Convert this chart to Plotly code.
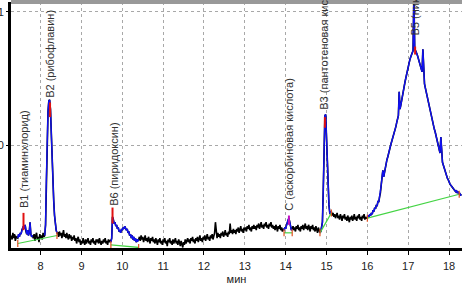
import plotly.graph_objects as go

# ---------------- data ----------------
SAMPLE_STEP = 0.02  # min between detector samples

sig_0728 = [-0.68, -0.71, -0.66, -0.70, -0.67, -0.72, -0.69, -0.70]
sig_0744 = [-0.70, -0.67, -0.69, -0.66, -0.67, -0.64, -0.62, -0.61, -0.63, -0.60,
            -0.65, -0.67, -0.64, -0.68, -0.66, -0.58, -0.67, -0.69, -0.68]
sig_0782 = [-0.70, -0.67, -0.72, -0.68, -0.66, -0.71, -0.69, -0.73, -0.67, -0.70,
            -0.68, -0.71, -0.66, -0.69]
sig_0810 = [-0.68, -0.60, -0.25, 0.05, 0.25, 0.33, 0.34, 0.27, 0.05, -0.15,
            -0.30, -0.42, -0.53, -0.60, -0.64, -0.66]
sig_0842 = [-0.66, -0.69, -0.65, -0.68, -0.66, -0.70, -0.67, -0.64, -0.69, -0.67,
            -0.70, -0.66, -0.69, -0.71, -0.67, -0.70, -0.68, -0.72, -0.69, -0.71,
            -0.68, -0.72, -0.70, -0.74, -0.71, -0.69, -0.73, -0.71, -0.75, -0.72,
            -0.74, -0.70, -0.73, -0.75, -0.71, -0.74, -0.72, -0.70, -0.74, -0.72,
            -0.75, -0.71, -0.73, -0.70, -0.74, -0.72, -0.75, -0.71, -0.73, -0.71,
            -0.74, -0.70, -0.73, -0.75, -0.72, -0.74, -0.71, -0.73, -0.70, -0.74,
            -0.72, -0.75, -0.71, -0.73, -0.72]
sig_0972 = [-0.73, -0.70, -0.54, -0.56, -0.59, -0.58, -0.61, -0.60, -0.63, -0.62,
            -0.65, -0.64, -0.66, -0.63, -0.64, -0.62, -0.63, -0.61, -0.62, -0.64,
            -0.63, -0.66, -0.65, -0.68, -0.67, -0.70, -0.68, -0.71, -0.69, -0.72,
            -0.70, -0.73, -0.71, -0.72, -0.71]
sig_1042 = [-0.69, -0.72, -0.68, -0.71, -0.69, -0.73, -0.70, -0.68, -0.72, -0.70,
            -0.73, -0.69, -0.71, -0.74, -0.70, -0.72, -0.69, -0.73, -0.71, -0.74,
            -0.70, -0.72, -0.75, -0.71, -0.73, -0.70, -0.74, -0.72, -0.75, -0.71,
            -0.73, -0.70, -0.74, -0.72, -0.76, -0.71, -0.73, -0.70, -0.74, -0.72,
            -0.75, -0.71, -0.74, -0.72, -0.70, -0.74, -0.72, -0.75, -0.71, -0.73,
            -0.76, -0.72, -0.74, -0.77, -0.73, -0.75, -0.71, -0.74, -0.72, -0.70,
            -0.73, -0.71, -0.74, -0.70, -0.72, -0.69, -0.73, -0.71, -0.74, -0.70,
            -0.72, -0.69, -0.73, -0.71, -0.68, -0.72, -0.70, -0.73, -0.69, -0.71]
sig_1202 = [-0.68, -0.72, -0.70, -0.67, -0.71, -0.69, -0.72, -0.68, -0.70, -0.67,
            -0.71, -0.69, -0.66, -0.58, -0.68, -0.70, -0.66, -0.69, -0.67, -0.70,
            -0.66, -0.68, -0.65, -0.69, -0.67, -0.64, -0.68, -0.66, -0.69, -0.65,
            -0.67, -0.59, -0.66, -0.64, -0.67, -0.63, -0.66, -0.64, -0.67, -0.63,
            -0.65, -0.62, -0.66, -0.64, -0.61, -0.65, -0.63, -0.66, -0.62, -0.64]
sig_1302 = [-0.62, -0.65, -0.61, -0.63, -0.60, -0.64, -0.62, -0.65, -0.61, -0.63,
            -0.60, -0.63, -0.61, -0.64, -0.60, -0.62, -0.59, -0.63, -0.61, -0.58,
            -0.62, -0.60, -0.63, -0.59, -0.61, -0.58, -0.62, -0.60, -0.63, -0.59,
            -0.61, -0.58, -0.62, -0.60, -0.63, -0.61, -0.64, -0.60, -0.62, -0.65,
            -0.61, -0.63, -0.60, -0.64, -0.62, -0.65, -0.63]
sig_1396 = [-0.64, -0.62, -0.63, -0.60, -0.58, -0.56, -0.55, -0.58, -0.62, -0.64,
            -0.63]
sig_1418 = [-0.61, -0.64, -0.62, -0.65, -0.61, -0.63, -0.60, -0.64, -0.62, -0.65,
            -0.61, -0.63, -0.60, -0.64, -0.62, -0.59, -0.63, -0.61, -0.64, -0.60,
            -0.62, -0.65, -0.61, -0.63, -0.60, -0.64, -0.62, -0.65, -0.61, -0.63,
            -0.66, -0.62, -0.64]
sig_1484 = [-0.66, -0.65, -0.62, -0.58, -0.35, 0.00, 0.22, 0.23, 0.05, -0.10,
            -0.35, -0.45, -0.51, -0.52, -0.50]
sig_1514 = [-0.53, -0.51, -0.54, -0.52, -0.55, -0.53, -0.51, -0.55, -0.53, -0.56,
            -0.52, -0.54, -0.57, -0.53, -0.55, -0.52, -0.56, -0.54, -0.57, -0.53,
            -0.55, -0.58, -0.54, -0.56, -0.53, -0.57, -0.55, -0.52, -0.56, -0.54,
            -0.57, -0.53, -0.55, -0.52, -0.56, -0.54, -0.57, -0.53, -0.55, -0.52,
            -0.56, -0.54, -0.55]
sig_1600 = [-0.55, -0.53, -0.54, -0.52, -0.53, -0.51, -0.52, -0.49, -0.50, -0.47,
            -0.48, -0.45, -0.46, -0.42, -0.43, -0.39, -0.36, -0.30, -0.24, -0.19,
            -0.24, -0.20, -0.17, -0.14, -0.11, -0.09, -0.06, -0.04, -0.01, 0.01,
            0.03, 0.05, 0.08, 0.10, 0.12, 0.14, 0.17, 0.19, 0.22, 0.40,
            0.27, 0.30, 0.34, 0.37, 0.40, 0.44, 0.47, 0.50, 0.53, 0.57,
            0.60, 0.62, 0.64, 0.66, 0.68, 0.69, 0.71, 1.15, 0.72, 0.71,
            0.70, 0.68, 0.66, 0.64, 0.62, 0.60, 0.57, 0.55, 0.72, 0.50,
            0.46, 0.43, 0.40, 0.37, 0.34, 0.31, 0.28, 0.26, 0.23, 0.20,
            0.18, 0.15, 0.12, 0.10, 0.07, 0.05, 0.02, -0.01, -0.03, -0.06,
            0.06, -0.11, -0.13, -0.15, -0.17, -0.20, -0.22, -0.23, -0.25, -0.26,
            -0.28, -0.29, -0.30, -0.31, -0.32, -0.33, -0.33, -0.34, -0.35, -0.34,
            -0.36, -0.35, -0.37, -0.36, -0.38, -0.37]

chunk_start = [7.28, 7.44, 7.82, 8.10, 8.42, 9.72, 10.42, 12.02, 13.02, 13.96,
               14.18, 14.84, 15.14, 16.00]
chunks = [sig_0728, sig_0744, sig_0782, sig_0810, sig_0842, sig_0972, sig_1042,
          sig_1202, sig_1302, sig_1396, sig_1418, sig_1484, sig_1514, sig_1600]

# peaks
peak_labels = ["В1 (тиаминхлорид)", "В2 (рибофлавин)", "В6 (пиридоксин)",
               "С (аскорбиновая кислота)", "В3 (пантотеновая кислота)",
               "В5 (никотиновая кислота)"]
window_start = [7.44, 8.10, 9.72, 13.96, 14.84, 16.00]
window_end = [7.80, 8.40, 10.40, 14.16, 15.12, 18.30]
apex_t = [7.58, 8.23, 9.76, 14.08, 14.96, 17.17]
apex_mark_top = [-0.51, 0.32, -0.47, -0.53, 0.21, 0.74]
apex_mark_bottom = [-0.64, 0.21, -0.59, -0.60, 0.13, 0.68]
apex_mark_color = ["#e01010", "#e01010", "#e01010", "#c010c0", "#e01010", "#e01010"]
label_t = [7.59, 8.23, 9.79, 14.09, 14.95, 17.16]
label_v = [-0.49, 0.34, -0.47, -0.51, 0.25, 0.81]

# integration baselines
base_t0 = [7.44, 9.72, 13.96, 14.84, 16.00]
base_v0 = [-0.74, -0.75, -0.66, -0.66, -0.55]
base_t1 = [8.40, 10.40, 14.16, 15.12, 18.25]
base_v1 = [-0.68, -0.77, -0.66, -0.51, -0.37]

x_ticks = [8, 9, 10, 11, 12, 13, 14, 15, 16, 17, 18]
y_ticks = [0, 1]
y_tick_text = ["0", "1"]

# ---------------- build ----------------
t_all, v_all = [], []
for st, vals in zip(chunk_start, chunks):
    for i, v in enumerate(vals):
        t_all.append(round(st + SAMPLE_STEP * i, 4))
        v_all.append(v)

FONT = "Liberation Sans, Arial, sans-serif"
fig = go.Figure()
fig.add_trace(go.Scatter(x=t_all, y=v_all, mode="lines",
                         line=dict(color="#000000", width=1.6), hoverinfo="skip"))
for ws, we in zip(window_start, window_end):
    xs = [t for t in t_all if ws - 1e-9 <= t <= we + 1e-9]
    ys = [v for t, v in zip(t_all, v_all) if ws - 1e-9 <= t <= we + 1e-9]
    fig.add_trace(go.Scatter(x=xs, y=ys, mode="lines",
                             line=dict(color="#1010f0", width=1.4), hoverinfo="skip"))
for a, b, c, d in zip(base_t0, base_v0, base_t1, base_v1):
    fig.add_trace(go.Scatter(x=[a, c], y=[b, d], mode="lines+markers",
                             line=dict(color="#44d444", width=1.2),
                             marker=dict(symbol="line-ns-open", size=5,
                                         color="#e05020", line=dict(width=1.2, color="#e05020")),
                             hoverinfo="skip"))
for t, top, bot, col in zip(apex_t, apex_mark_top, apex_mark_bottom, apex_mark_color):
    fig.add_trace(go.Scatter(x=[t, t], y=[top, bot], mode="lines",
                             line=dict(color=col, width=2), hoverinfo="skip"))

for txt, t, v in zip(peak_labels, label_t, label_v):
    fig.add_annotation(x=t, y=v, xref="x", yref="y", text=txt, showarrow=False,
                       textangle=-90, xanchor="center", yanchor="bottom",
                       font=dict(family=FONT, size=11, color="#333333"))

fig.update_layout(
    width=463, height=285,
    margin=dict(l=11, r=1, t=2, b=37, autoexpand=False),
    paper_bgcolor="white", plot_bgcolor="white",
    showlegend=False, hovermode=False,
    font=dict(family=FONT, size=11, color="#222222"),
)
fig.update_xaxes(
    range=[7.274, 18.318], tickvals=x_ticks, ticks="outside", ticklen=4,
    ticklabelstandoff=2,
    tickcolor="#000", showgrid=True, gridcolor="#a8a8a8", griddash="dot", gridwidth=1,
    showline=True, linecolor="#000", linewidth=3, zeroline=False, automargin=False,
    title=dict(text="мин", font=dict(family=FONT, size=11, color="#222"), standoff=6),
    tickfont=dict(family=FONT, size=11, color="#222"),
)
fig.update_yaxes(
    range=[-0.774, 1.075], tickvals=y_ticks, ticktext=y_tick_text, ticks="outside",
    ticklen=2, tickcolor="#000", showgrid=True, gridcolor="#a8a8a8", griddash="dot",
    gridwidth=1, showline=True, linecolor="#000", linewidth=3, zeroline=False,
    automargin=False, tickfont=dict(family=FONT, size=11, color="#222"),
)
fig.add_shape(type="line", xref="paper", yref="paper", x0=0, x1=1, y0=1, y1=1,
              line=dict(color="#999999", width=4), layer="above")

fig.write_html("out.html", config={"displayModeBar": False},
               post_script="document.body.style.margin='0';document.body.style.overflow='hidden';")
